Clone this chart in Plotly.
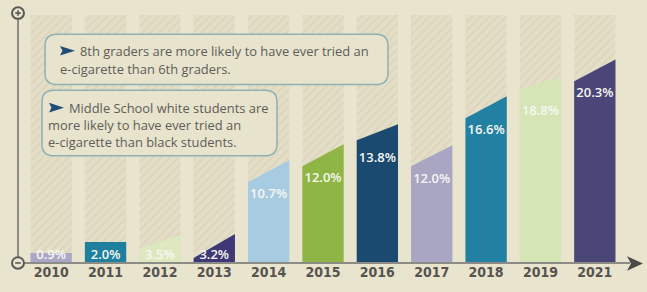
import plotly.graph_objects as go

# ---- data ----
years = ["2010", "2011", "2012", "2013", "2014", "2015", "2016", "2017", "2018", "2019", "2021"]
values = [0.9, 2.0, 3.5, 3.2, 10.7, 12.0, 13.8, 12.0, 16.6, 18.8, 20.3]
# drawn heights of each bar's left and right top corner (slanted tops)
top_left = [0.9, 2.0, 1.3, 0.4, 8.0, 9.6, 12.2, 9.6, 14.4, 17.3, 18.1]
top_right = [0.9, 2.0, 2.7, 2.8, 10.2, 11.8, 13.8, 11.7, 16.6, 18.5, 20.3]
bar_colors = ["#aaa8c6", "#1f7f9f", "#dde8bf", "#3e3976", "#a7cbe0", "#8fb644",
              "#1b4a70", "#a9a6c3", "#2281a3", "#d5e5b5", "#4a4677"]
notes = [
    ["8th graders are more likely to have ever tried an",
     "e-cigarette than 6th graders."],
    ["Middle School white students are",
     "more likely to have ever tried an",
     "e-cigarette than black students."],
]

# ---- layout geometry ----
W, H = 647, 292
ML, MR, MT, MB = 24, 25, 15, 21
PW, PH = W - ML - MR, H - MT - MB
YMAX = 24.75
BW = 0.76
BG = "#e9e4ce"


def px(x):
    return (x - ML) / PW


def py(y):
    return (H - MB - y) / PH


n = len(years)
xs = list(range(n))
fig = go.Figure()

# hatched background columns
fig.add_trace(go.Bar(
    x=xs, y=[YMAX] * n, width=BW,
    marker=dict(color="#e4dec7", line=dict(width=0),
                pattern=dict(shape="/", fgcolor="#d3cbb3", bgcolor="#e4dec7",
                             size=6, solidity=0.28)),
    hoverinfo="skip", showlegend=False))

# slanted-top bars
for i in range(n):
    x0, x1 = i - BW / 2, i + BW / 2
    fig.add_trace(go.Scatter(
        x=[x0, x0, x1, x1, x0], y=[0, top_left[i], top_right[i], 0, 0],
        mode="lines", fill="toself", fillcolor=bar_colors[i],
        line=dict(width=0, color=bar_colors[i]), hoverinfo="skip", showlegend=False))

# value labels
label_y = [max(r - 3.45, 0.65) for r in top_right]
fig.add_trace(go.Scatter(
    x=xs, y=label_y, mode="text",
    text=[f"{v:.1f}%" for v in values],
    textfont=dict(family="Open Sans", size=13, color="#f7f7f2", weight=600),
    hoverinfo="skip", showlegend=False))

shapes = []
# vertical axis
shapes.append(dict(type="line", xref="paper", yref="paper",
                   x0=px(18), x1=px(18), y0=py(19), y1=py(267),
                   line=dict(color="#8d8b85", width=2)))
# horizontal axis
shapes.append(dict(type="line", xref="paper", yref="paper",
                   x0=px(22), x1=px(630), y0=py(272), y1=py(272),
                   line=dict(color="#8d8b85", width=2)))
# arrow head
shapes.append(dict(type="path", xref="paper", yref="paper",
                   path=f"M {px(627)},{py(265)} L {px(643)},{py(272.5)} L {px(627)},{py(280)} L {px(631)},{py(272.5)} Z",
                   fillcolor="#4a4a48", line=dict(width=0)))
# circles (+ / -)
for cy in (13, 272):
    shapes.append(dict(type="circle", xref="paper", yref="paper",
                       x0=px(12), x1=px(24), y0=py(cy - 6), y1=py(cy + 6),
                       fillcolor=BG, line=dict(color="#5a5955", width=2)))
    shapes.append(dict(type="line", xref="paper", yref="paper",
                       x0=px(15.2), x1=px(20.8), y0=py(cy), y1=py(cy),
                       line=dict(color="#5a5955", width=1.6)))
shapes.append(dict(type="line", xref="paper", yref="paper",
                   x0=px(18), x1=px(18), y0=py(10.2), y1=py(15.8),
                   line=dict(color="#5a5955", width=1.6)))


def rrect(x0, y0, x1, y1, r):
    p = (f"M {px(x0 + r)},{py(y0)} L {px(x1 - r)},{py(y0)} "
         f"Q {px(x1)},{py(y0)} {px(x1)},{py(y0 + r)} "
         f"L {px(x1)},{py(y1 - r)} Q {px(x1)},{py(y1)} {px(x1 - r)},{py(y1)} "
         f"L {px(x0 + r)},{py(y1)} Q {px(x0)},{py(y1)} {px(x0)},{py(y1 - r)} "
         f"L {px(x0)},{py(y0 + r)} Q {px(x0)},{py(y0)} {px(x0 + r)},{py(y0)} Z")
    return dict(type="path", xref="paper", yref="paper", path=p, layer="above",
                fillcolor="#e8e3cd", line=dict(color="#8fb1b4", width=1.5))


def arrow(x0, yc):
    p = (f"M {px(x0)},{py(yc - 5)} L {px(x0 + 15)},{py(yc)} "
         f"L {px(x0)},{py(yc + 5)} L {px(x0 + 2.5)},{py(yc)} Z")
    return dict(type="path", xref="paper", yref="paper", path=p, layer="above",
                fillcolor="#1f4d78", line=dict(width=0))


shapes.append(rrect(45, 35, 388, 87, 12))
shapes.append(rrect(42, 93, 277, 161, 12))
shapes.append(arrow(60, 52))
shapes.append(arrow(49, 111))

annotations = []
box_lines = [
    [(78, 52), (58, 71)],
    [(67, 111), (46, 129), (46, 147)],
]
for lines, pos in zip(notes, box_lines):
    for txt, (lx, ly) in zip(lines, pos):
        annotations.append(dict(text=txt, x=px(lx), y=py(ly), xref="paper", yref="paper",
                                xanchor="left", yanchor="middle", showarrow=False,
                                font=dict(family="Open Sans", size=12.9, color="#5e5d58")))

fig.update_layout(
    width=W, height=H, margin=dict(l=ML, r=MR, t=MT, b=MB, pad=0),
    paper_bgcolor=BG, plot_bgcolor=BG,
    barmode="overlay", showlegend=False,
    shapes=shapes, annotations=annotations,
    xaxis=dict(range=[-0.5, n - 0.5], tickvals=xs, ticktext=years,
               showgrid=False, zeroline=False, showline=False, ticks="",
               tickfont=dict(family="Liberation Sans Narrow, DejaVu Sans Condensed, Arial Narrow",
                             size=14, color="#56544f", weight="bold"),
               fixedrange=True),
    yaxis=dict(range=[0, YMAX], visible=False, fixedrange=True),
)

fig.write_html("out.html", config={"displayModeBar": False},
               post_script="document.body.style.margin='0';document.body.style.background='" + BG + "';")
